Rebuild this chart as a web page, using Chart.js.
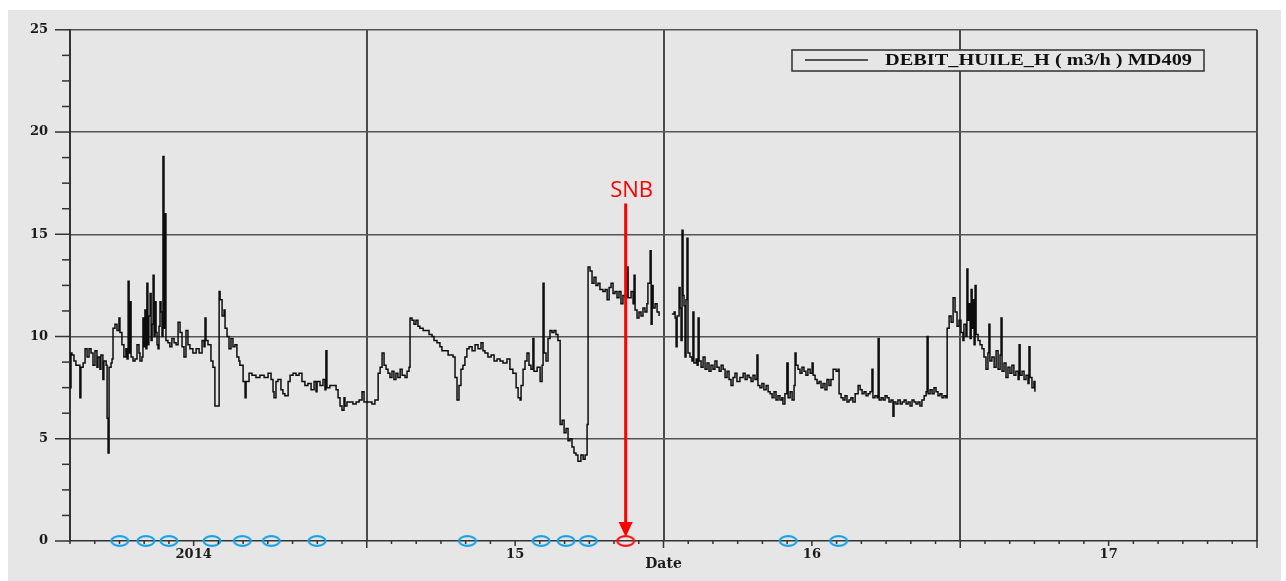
<!DOCTYPE html>
<html><head><meta charset="utf-8">
<script src="https://cdn.jsdelivr.net/npm/chart.js@4.4.1/dist/chart.umd.min.js"></script>
<style>
html,body{margin:0;padding:0;background:#fff;overflow:hidden;}
canvas{display:block;}
</style></head><body>
<canvas id="c" width="1286" height="581"></canvas>
<script>
// ---- data (time in months from the left edge of the axis, flow in m3/h) ----
const seriesLabel = 'DEBIT_HUILE_H ( m3/h ) MD409';
const timeMonths = [
0.00,0.02,0.04,0.08,0.16,0.24,0.40,0.44,0.53,0.61,0.69,0.77,0.85,0.93,1.01,1.09,1.13,1.21,1.25,1.33,1.37,1.46,1.50,1.54,1.58,1.66,1.70,1.74,1.82,1.90,
1.98,2.02,2.10,2.18,2.26,2.31,2.35,2.39,2.43,2.47,2.55,2.63,2.71,2.79,2.83,2.91,2.95,2.99,3.03,3.07,3.11,3.15,3.19,3.24,3.28,3.32,3.36,3.40,3.44,3.48,
3.52,3.56,3.60,3.64,3.68,3.72,3.76,3.80,3.84,3.88,3.96,4.04,4.12,4.21,4.29,4.37,4.45,4.53,4.61,4.69,4.77,4.85,4.97,5.10,5.22,5.34,5.42,5.46,5.50,5.58,
5.70,5.78,5.86,5.99,6.03,6.07,6.15,6.23,6.27,6.35,6.43,6.51,6.59,6.67,6.75,6.83,6.87,7.00,7.08,7.12,7.24,7.36,7.52,7.68,7.85,8.01,8.13,8.21,8.25,8.33,
8.41,8.53,8.61,8.69,8.82,8.90,9.02,9.14,9.26,9.38,9.50,9.62,9.75,9.87,9.95,9.99,10.11,10.23,10.31,10.35,10.39,10.51,10.64,10.76,10.84,10.92,11.00,11.08,11.12,11.20,
11.32,11.44,11.57,11.69,11.81,11.89,12.05,12.21,12.33,12.46,12.54,12.62,12.70,12.78,12.86,12.94,13.02,13.10,13.18,13.26,13.35,13.43,13.55,13.63,13.71,13.75,13.83,13.91,13.99,14.07,
14.15,14.28,14.40,14.52,14.64,14.72,14.84,14.96,15.04,15.17,15.29,15.49,15.57,15.65,15.73,15.81,15.89,15.97,16.05,16.14,16.26,16.38,16.50,16.62,16.70,16.78,16.90,17.03,17.15,17.27,
17.39,17.51,17.67,17.79,17.91,18.04,18.12,18.20,18.24,18.32,18.40,18.48,18.56,18.64,18.72,18.76,18.89,18.97,19.01,19.09,19.13,19.17,19.25,19.33,19.41,19.49,19.57,19.65,19.73,19.82,
19.90,19.98,20.06,20.14,20.22,20.30,20.38,20.46,20.54,20.66,20.75,20.83,20.91,20.95,21.03,21.11,21.19,21.27,21.35,21.43,21.55,21.64,21.72,21.80,21.88,21.96,22.04,22.12,22.20,22.28,
22.36,22.44,22.52,22.57,22.69,22.77,22.81,22.85,22.93,23.01,23.09,23.17,23.25,23.33,23.37,23.46,23.50,23.54,23.58,23.66,23.74,23.82,24.05,24.34,24.43,24.47,24.51,24.55,24.63,24.67,
24.71,24.75,24.79,24.83,24.87,24.91,24.95,24.99,25.07,25.15,25.19,25.23,25.32,25.36,25.40,25.44,25.52,25.60,25.68,25.76,25.84,25.92,26.00,26.08,26.16,26.25,26.33,26.41,26.49,26.57,
26.65,26.73,26.81,26.89,26.97,27.09,27.22,27.30,27.38,27.46,27.54,27.62,27.70,27.78,27.82,27.90,27.98,28.06,28.15,28.23,28.31,28.39,28.47,28.55,28.63,28.71,28.79,28.83,28.91,28.99,
29.04,29.12,29.20,29.28,29.32,29.36,29.44,29.52,29.60,29.68,29.76,29.84,29.93,30.01,30.05,30.13,30.21,30.29,30.37,30.45,30.53,30.61,30.69,30.77,30.86,30.98,31.06,31.10,31.18,31.26,
31.34,31.42,31.50,31.58,31.66,31.75,31.87,31.95,32.03,32.11,32.19,32.27,32.35,32.43,32.47,32.55,32.64,32.68,32.72,32.80,32.88,32.96,33.04,33.12,33.20,33.28,33.32,33.40,33.48,33.57,
33.65,33.73,33.81,33.89,33.97,34.05,34.13,34.21,34.29,34.37,34.45,34.54,34.62,34.66,34.70,34.78,34.86,34.94,35.02,35.10,35.18,35.26,35.34,35.42,35.47,35.55,35.63,35.71,35.79,35.87,
35.95,36.03,36.11,36.15,36.23,36.27,36.31,36.35,36.40,36.44,36.48,36.52,36.56,36.60,36.64,36.72,36.80,36.88,36.96,37.04,37.12,37.16,37.20,37.28,37.37,37.45,37.53,37.61,37.65,37.69,
37.77,37.85,37.93,38.01,38.09,38.17,38.25,38.34,38.38,38.42,38.50,38.58,38.66,38.74,38.78,38.82,38.90,38.98,39.02
];
const flowValues = [
9.2,7.5,9.2,9.1,8.8,8.6,7.0,8.5,8.7,9.4,9.0,9.4,9.2,8.6,9.3,8.5,9.0,8.4,9.1,7.9,8.8,8.6,6.0,4.3,8.5,8.7,8.9,10.4,10.6,10.3,
10.9,10.2,9.6,9.0,9.4,8.9,12.7,9.2,11.7,9.0,8.8,8.9,9.6,9.2,8.8,9.0,10.9,9.5,11.3,9.4,12.6,9.6,11.0,12.1,9.8,10.6,13.0,10.0,11.7,10.2,
9.6,9.4,10.5,11.7,11.2,10.0,18.8,10.4,16.0,9.8,9.7,9.5,9.9,9.7,9.6,10.7,10.2,9.5,9.0,10.3,9.6,9.4,9.2,9.4,9.2,9.8,9.5,10.9,9.8,9.6,
8.8,8.5,6.6,6.6,12.2,11.8,11.0,11.3,10.4,10.0,9.4,9.9,9.5,9.6,9.0,8.8,8.6,7.8,7.0,7.8,8.2,8.1,8.0,8.1,8.0,8.2,7.9,7.3,7.0,7.8,
7.9,7.4,7.2,7.1,7.8,8.1,8.2,8.1,8.2,7.8,7.6,7.7,7.4,7.8,7.3,7.8,7.6,7.9,7.4,9.3,7.5,7.6,7.6,7.4,7.0,6.6,6.4,7.0,6.6,6.8,
6.8,6.7,6.8,6.9,7.3,6.8,6.8,6.7,6.9,8.2,8.5,9.2,8.6,8.4,8.2,8.0,8.3,7.9,8.2,8.0,8.4,8.1,8.0,8.3,8.5,10.9,10.8,10.6,10.8,10.5,
10.4,10.3,10.3,10.1,10.0,9.8,9.7,9.5,9.3,9.3,9.1,9.0,8.0,6.9,7.6,8.4,8.6,9.0,9.4,9.5,9.3,9.6,9.4,9.7,9.3,9.2,9.0,9.1,8.8,8.9,
8.8,8.7,8.9,8.4,8.2,7.5,7.0,6.9,7.6,8.4,8.8,9.2,8.6,8.4,9.9,8.3,8.5,8.5,7.8,8.6,12.6,9.2,8.8,9.9,10.3,10.2,10.3,10.1,9.8,5.7,
5.9,5.3,5.5,4.9,5.0,4.6,4.3,4.2,3.9,4.2,4.0,4.2,5.7,13.4,13.2,12.6,12.9,12.5,12.6,12.3,12.2,12.3,11.8,12.4,12.6,12.1,12.2,11.9,12.2,11.6,
12.0,11.9,13.4,11.9,12.2,11.6,13.0,11.3,10.9,11.2,11.0,11.4,11.2,11.6,12.6,14.2,10.6,12.5,11.4,11.6,11.2,11.0,null,11.1,11.2,10.9,9.5,11.0,12.4,11.4,
9.8,15.2,12.0,11.5,9.0,11.8,14.8,9.2,9.0,8.8,11.2,8.7,8.9,8.6,10.9,8.8,8.5,9.0,8.4,8.7,8.3,8.6,8.4,8.8,8.5,8.3,8.6,8.4,8.0,8.3,
7.9,7.6,8.0,8.2,7.8,8.0,8.2,7.9,8.1,8.0,7.8,8.1,7.9,9.1,7.6,7.5,7.7,7.4,7.6,7.3,7.2,7.0,7.3,6.9,7.1,6.9,7.0,6.7,7.2,8.7,
7.0,7.3,6.9,7.6,9.2,8.6,8.4,8.2,8.5,8.3,8.1,8.4,8.2,8.7,8.1,7.9,7.7,7.8,7.5,7.7,7.4,7.9,7.6,7.9,8.4,8.3,8.4,7.2,7.0,6.9,
7.1,6.8,6.9,7.0,6.8,7.2,7.6,7.4,7.2,7.3,7.1,7.2,7.3,8.4,7.0,7.1,7.0,9.9,6.9,7.0,6.9,7.1,7.0,6.8,6.9,6.1,6.8,6.7,6.9,6.7,
6.8,6.9,6.7,6.8,6.6,6.9,6.8,6.7,6.8,6.6,6.9,7.1,7.3,10.0,7.2,7.4,7.2,7.5,7.3,7.1,7.2,7.0,7.1,7.0,10.4,11.0,10.7,11.9,11.2,10.5,
10.8,10.2,9.8,10.6,10.0,13.3,10.8,11.6,9.9,12.3,10.4,11.8,9.6,12.5,10.1,9.8,9.6,9.4,9.0,8.4,9.2,10.6,8.8,9.0,8.5,9.3,8.4,9.1,10.9,8.3,
8.7,8.0,8.5,8.2,8.6,8.1,8.3,7.9,9.6,8.1,8.3,7.9,8.1,7.7,9.5,8.0,7.5,7.8,7.3
];
// marked events on the time axis (blue) and the SNB event (red)
const eventMonths = [2.01,3.07,4.00,5.74,6.97,8.14,9.99,16.07,19.05,20.06,20.96,29.04,31.08];
const snbMonth = 22.47;
const snbLabel = 'SNB';
const snbTopValue = 16.5;
// axis ticks
const xTickMonths = [5,18,30,42];
const xTickLabels = ['2014','15','16','17'];
const xGridMonths = [12,24,36,48];
const yTickValues = [0,5,10,15,20,25];
const xTitle = 'Date';

// ---- build ----
const lineData = timeMonths.map((m,i)=>({x:m,y:flowValues[i]}));
const eventData = eventMonths.map(m=>({x:m,y:0}));
const snbData = [{x:snbMonth,y:0}];

function ellipseImg(color){
  const c = document.createElement('canvas'); c.width=22; c.height=14;
  const g = c.getContext('2d'); g.strokeStyle=color; g.lineWidth=2.2;
  g.beginPath(); g.ellipse(11,7,8.5,4.8,0,0,Math.PI*2); g.stroke();
  return c;
}
const blueEllipse = ellipseImg('#17a4e6');
const redEllipse = ellipseImg('#ff1010');

const TF = {family:'"DejaVu Serif", serif', weight:'bold', size:13};

const decor = {
  id:'decor',
  beforeDraw(chart){
    const ctx=chart.ctx; ctx.save();
    ctx.fillStyle='#ffffff'; ctx.fillRect(0,0,chart.width,chart.height);
    ctx.fillStyle='#e6e6e6'; ctx.fillRect(8,10,1273,571);
    ctx.restore();
  },
  afterDatasetsDraw(chart){
    const ctx=chart.ctx, xs=chart.scales.x, ys=chart.scales.y;
    ctx.save();
    // SNB arrow
    const x = xs.getPixelForValue(snbMonth);
    const yTop = ys.getPixelForValue(snbTopValue);
    const yTip = ys.getPixelForValue(0) - 4;
    ctx.strokeStyle='#ff0000'; ctx.fillStyle='#ff0000'; ctx.lineWidth=3;
    ctx.beginPath(); ctx.moveTo(x,yTop); ctx.lineTo(x,yTip-12); ctx.stroke();
    ctx.beginPath(); ctx.moveTo(x-7,yTip-15); ctx.lineTo(x+7,yTip-15); ctx.lineTo(x,yTip); ctx.closePath(); ctx.fill();
    ctx.font='22px "Open Sans", sans-serif'; ctx.textAlign='center'; ctx.textBaseline='middle';
    ctx.fillText(snbLabel, x+6, yTop-13);
    ctx.restore();
  },
  afterDraw(chart){
    const ctx=chart.ctx, xs=chart.scales.x, ys=chart.scales.y, ca=chart.chartArea;
    ctx.save();
    ctx.strokeStyle='#333'; ctx.lineWidth=1.5;
    // y ticks
    for(let v=0; v<=25.0001; v+=1.25){
      const y=ys.getPixelForValue(v);
      const len = (v%5===0)?15:8;
      ctx.beginPath(); ctx.moveTo(ca.left-len,y); ctx.lineTo(ca.left,y); ctx.stroke();
    }
    // x ticks
    for(let m=0;m<=48;m++){
      const x=xs.getPixelForValue(m);
      let len=3;
      if(xTickMonths.includes(m)) len=5;
      if(xGridMonths.includes(m)) len=7;
      ctx.beginPath(); ctx.moveTo(x,ca.bottom); ctx.lineTo(x,ca.bottom+len); ctx.stroke();
    }
    // legend box
    const bx=792, by=50, bw=412, bh=21;
    ctx.fillStyle='#e6e6e6'; ctx.fillRect(bx,by,bw,bh);
    ctx.strokeStyle='#3a3a3a'; ctx.lineWidth=1.6; ctx.strokeRect(bx,by,bw,bh);
    ctx.strokeStyle='#222'; ctx.lineWidth=1.5;
    ctx.beginPath(); ctx.moveTo(805,by+10); ctx.lineTo(868,by+10); ctx.stroke();
    ctx.font='bold 16px "Liberation Serif", serif'; ctx.fillStyle='#111';
    ctx.textBaseline='middle'; ctx.textAlign='left';
    const w = ctx.measureText(seriesLabel).width;
    const sx = 307/w;
    ctx.translate(885, by+bh/2+0.5); ctx.scale(sx,1);
    ctx.fillText(seriesLabel,0,0);
    ctx.restore();
  }
};

new Chart(document.getElementById('c'), {
  type:'line',
  data:{datasets:[
    {label:seriesLabel, data:lineData, borderColor:'#0d0d0d', borderWidth:1.5, pointRadius:0, stepped:true, spanGaps:false, fill:false},
    {label:'events', type:'scatter', data:eventData, pointStyle:blueEllipse, pointRadius:8, showLine:false, clip:false},
    {label:'SNB', type:'scatter', data:snbData, pointStyle:redEllipse, pointRadius:8, showLine:false, clip:false}
  ]},
  options:{
    responsive:false, animation:false, events:[],
    layout:{padding:{top:28,right:29,left:0,bottom:0}},
    plugins:{legend:{display:false}, tooltip:{enabled:false}},
    scales:{
      x:{type:'linear', min:0, max:48,
        afterBuildTicks:s=>{ s.ticks=[]; for(let m=0;m<=48;m++) s.ticks.push({value:m}); },
        ticks:{autoSkip:false, maxRotation:0, padding:6, font:TF, color:'#1a1a1a',
          callback:v=>{ const i=xTickMonths.indexOf(v); return i>=0?xTickLabels[i]:''; }},
        grid:{drawTicks:false, color:c=>(c.tick && xGridMonths.includes(c.tick.value))?'#4a4a4a':'rgba(0,0,0,0)', lineWidth:2},
        border:{display:true, color:'#333', width:1.5},
        title:{display:true, text:xTitle, font:{family:'"DejaVu Serif", serif', weight:'bold', size:14}, color:'#1a1a1a', padding:{top:0,bottom:8}},
        afterFit:s=>{ s.height=40; }
      },
      y:{min:0, max:25,
        afterBuildTicks:s=>{ s.ticks=[]; for(let v=0; v<=25.0001; v+=1.25) s.ticks.push({value:v}); },
        ticks:{autoSkip:false, padding:22, font:TF, color:'#1a1a1a',
          callback:v=> yTickValues.includes(v)?String(v):''},
        grid:{drawTicks:false, color:c=>(c.tick && yTickValues.includes(c.tick.value) && c.tick.value>0)?'#555':'rgba(0,0,0,0)', lineWidth:1.5},
        border:{display:true, color:'#333', width:2},
        afterFit:s=>{ s.width=70; }
      }
    }
  },
  plugins:[decor]
});
</script>
</body></html>
